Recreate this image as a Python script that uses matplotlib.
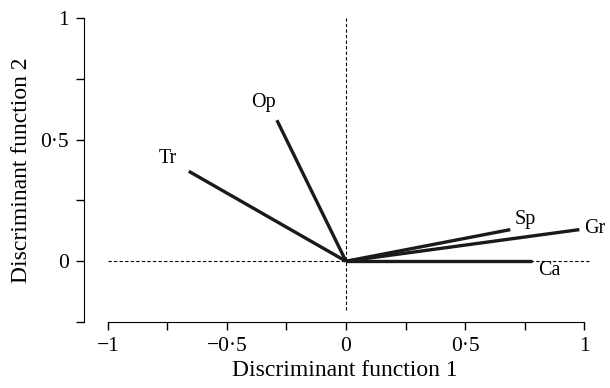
import matplotlib as mpl
mpl.use('Agg')
import matplotlib.pyplot as plt

# loadings on the two discriminant functions
names = ["Tr", "Op", "Sp", "Gr", "Ca"]
df1 = [-0.66, -0.29, 0.69, 0.98, 0.78]
df2 = [0.37, 0.58, 0.13, 0.13, 0.0]

xticks = [-1, -0.75, -0.5, -0.25, 0, 0.25, 0.5, 0.75, 1]
xticklabels = ["\u22121", "", "\u22120\u00b75", "", "0", "", "0\u00b75", "", "1"]
yticks = [-0.25, 0, 0.25, 0.5, 0.75, 1]
yticklabels = ["", "0", "", "0\u00b75", "", "1"]

# label offsets (points) from each vector tip
offs = {"Tr": (-15, 9), "Op": (-10, 13), "Sp": (11, 7), "Gr": (11, 1), "Ca": (13, -7)}

plt.rcParams['font.family'] = ['Liberation Serif', 'DejaVu Serif']

fig = plt.figure(figsize=(6.1, 3.88), dpi=100)
ax = fig.add_axes([0.1377, 0.170, 0.855, 0.7835])

ax.plot([-1, 1.02], [0, 0], ls=(0, (3, 2)), lw=0.8, color='black')
ax.plot([0, 0], [-0.2, 1], ls=(0, (3, 2)), lw=0.8, color='black')

for n, x, y in zip(names, df1, df2):
    ax.plot([0, x], [0, y], color='#1a1a1a', lw=2.4, solid_capstyle='butt')
    ax.annotate(n, (x, y), xytext=offs[n], textcoords='offset points',
                ha='center', va='center', fontsize=14.5, annotation_clip=False)

ax.set_xlim(-1.1, 1.09)
ax.set_ylim(-0.25, 1.0)
ax.set_xticks(xticks)
ax.set_xticklabels(xticklabels)
ax.set_yticks(yticks)
ax.set_yticklabels(yticklabels)
ax.tick_params(labelsize=15.5, length=6, width=1, direction='out', pad=5)

ax.spines['top'].set_visible(False)
ax.spines['right'].set_visible(False)
ax.spines['bottom'].set_bounds(-1, 1)
ax.spines['left'].set_bounds(-0.25, 1)

ax.set_xlabel("Discriminant function 1", fontsize=17, labelpad=3)
ax.set_ylabel("Discriminant function 2", fontsize=17, labelpad=6)

fig.savefig("out.png", dpi=100)
